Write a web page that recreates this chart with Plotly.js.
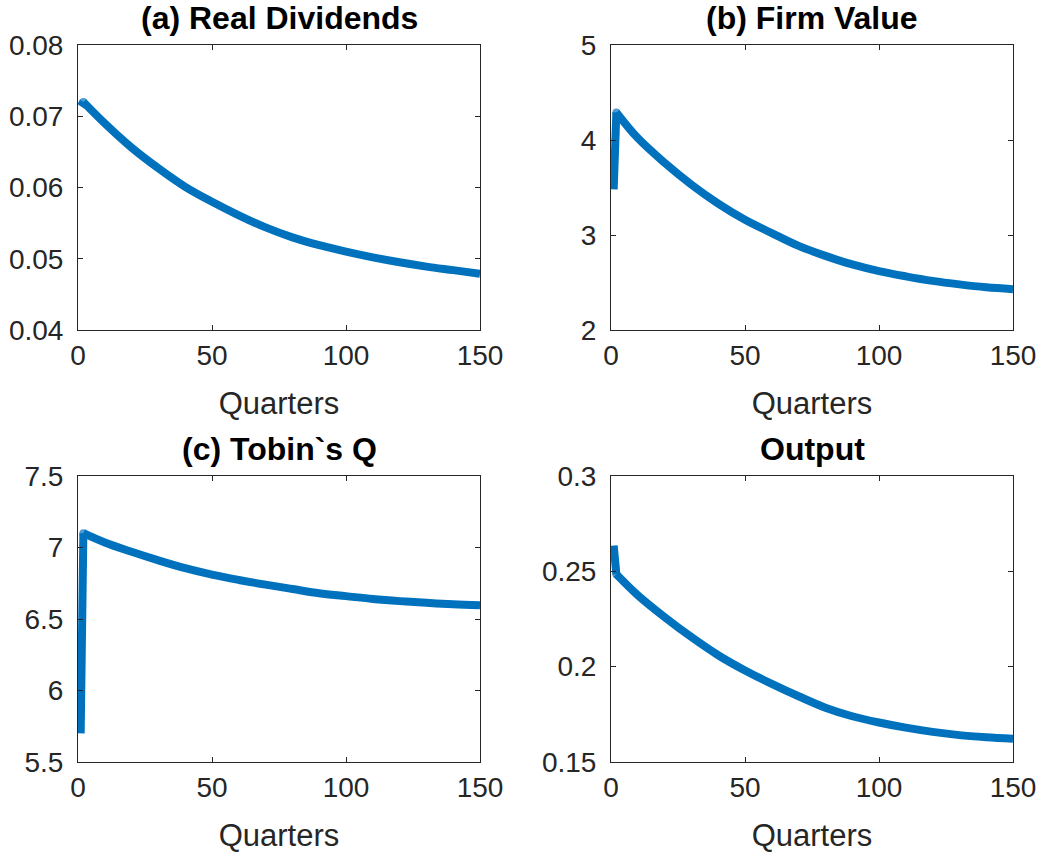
<!DOCTYPE html>
<html>
<head>
<meta charset="utf-8">
<script src="https://cdn.plot.ly/plotly-3.0.1.min.js"></script>
<style>html,body{margin:0;padding:0;background:#fff;}#chart{width:1041px;height:853px;}</style>
</head>
<body>
<div id="chart"></div>
<script>
const quarters = [1, 2, 10, 20, 30, 40, 50, 60, 70, 80, 90, 100, 110, 120, 130, 140, 150];

// (a) Real Dividends
const realDividends = [0.0714, 0.0720, 0.0690, 0.0656, 0.0627, 0.0601, 0.0580, 0.0561, 0.0544, 0.0530, 0.0519, 0.0510, 0.0502, 0.0495, 0.0489, 0.0484, 0.0479];
// (b) Firm Value
const firmValue = [3.48, 4.29, 4.02, 3.76, 3.53, 3.33, 3.16, 3.02, 2.885, 2.78, 2.69, 2.62, 2.565, 2.517, 2.48, 2.45, 2.43];
// (c) Tobin`s Q
const tobinsQ = [5.70, 7.10, 7.035, 6.97, 6.91, 6.855, 6.81, 6.773, 6.74, 6.71, 6.68, 6.66, 6.64, 6.625, 6.613, 6.603, 6.596];
// Output
const output = [0.2635, 0.2485, 0.2375, 0.2260, 0.2155, 0.2060, 0.1980, 0.1910, 0.1845, 0.1785, 0.1740, 0.1707, 0.1680, 0.1658, 0.1641, 0.1630, 0.1622];

const panelTitles = ["(a) Real Dividends", "(b) Firm Value", "(c) Tobin`s Q", "Output"];
const xLabel = "Quarters";
const xTicks = [0, 50, 100, 150];
const yTicks = [
  [0.04, 0.05, 0.06, 0.07, 0.08],
  [2, 3, 4, 5],
  [5.5, 6, 6.5, 7, 7.5],
  [0.15, 0.2, 0.25, 0.3]
];
const series = [realDividends, firmValue, tobinsQ, output];

const W = 1041, H = 853;
const colDomains = [[78 / W, 480 / W], [611 / W, 1013 / W]];
const rowDomains = [[1 - 330 / H, 1 - 45 / H], [1 - 762 / H, 1 - 476 / H]];

const axisColor = "#262626";
const lineColor = "#0072BD";
const fontFamily = "Liberation Sans, Arial, sans-serif";
const tickFont = {family: fontFamily, size: 28, color: axisColor};

const traces = [];
const layout = {
  width: W, height: H,
  margin: {l: 0, r: 0, t: 0, b: 0},
  paper_bgcolor: "#ffffff",
  plot_bgcolor: "#ffffff",
  showlegend: false,
  font: {family: fontFamily, color: axisColor},
  annotations: []
};

for (let i = 0; i < 4; i++) {
  const row = Math.floor(i / 2), col = i % 2;
  const n = i === 0 ? "" : String(i + 1);
  const yt = yTicks[i];
  // initial jump (period 1 -> 2), straight segment; a dot fills the joint
  traces.push({
    x: quarters.slice(0, 2), y: series[i].slice(0, 2),
    xaxis: "x" + n, yaxis: "y" + n,
    type: "scatter", mode: "lines+markers",
    line: {color: lineColor, width: 8},
    marker: {color: lineColor, size: [0, 8], line: {width: 0}}
  });
  // smooth decay from period 2 on
  traces.push({
    x: quarters.slice(1), y: series[i].slice(1),
    xaxis: "x" + n, yaxis: "y" + n,
    type: "scatter", mode: "lines",
    line: {color: lineColor, width: 8, shape: "spline", smoothing: 1}
  });
  const common = {
    showline: true, linecolor: axisColor, linewidth: 1, mirror: "allticks",
    ticks: "inside", ticklen: 5, tickwidth: 1, tickcolor: axisColor,
    showgrid: false, zeroline: false, tickfont: tickFont, fixedrange: true
  };
  layout["xaxis" + n] = Object.assign({}, common, {
    domain: colDomains[col], anchor: "y" + n,
    range: [0, 150], tickvals: xTicks,
    title: {text: xLabel, font: {family: fontFamily, size: 31, color: axisColor}, standoff: 22}
  });
  layout["yaxis" + n] = Object.assign({}, common, {
    domain: rowDomains[row], anchor: "x" + n,
    range: [yt[0], yt[yt.length - 1]], tickvals: yt,
    ticklabelstandoff: 8
  });
  layout.annotations.push({
    text: "<b>" + panelTitles[i] + "</b>",
    xref: "paper", yref: "paper",
    x: (colDomains[col][0] + colDomains[col][1]) / 2,
    y: rowDomains[row][1] + 7 / H,
    xanchor: "center", yanchor: "bottom",
    showarrow: false,
    font: {family: fontFamily, size: 32, color: "#000000"}
  });
}

Plotly.newPlot("chart", traces, layout, {displayModeBar: false, staticPlot: true});
</script>
</body>
</html>
